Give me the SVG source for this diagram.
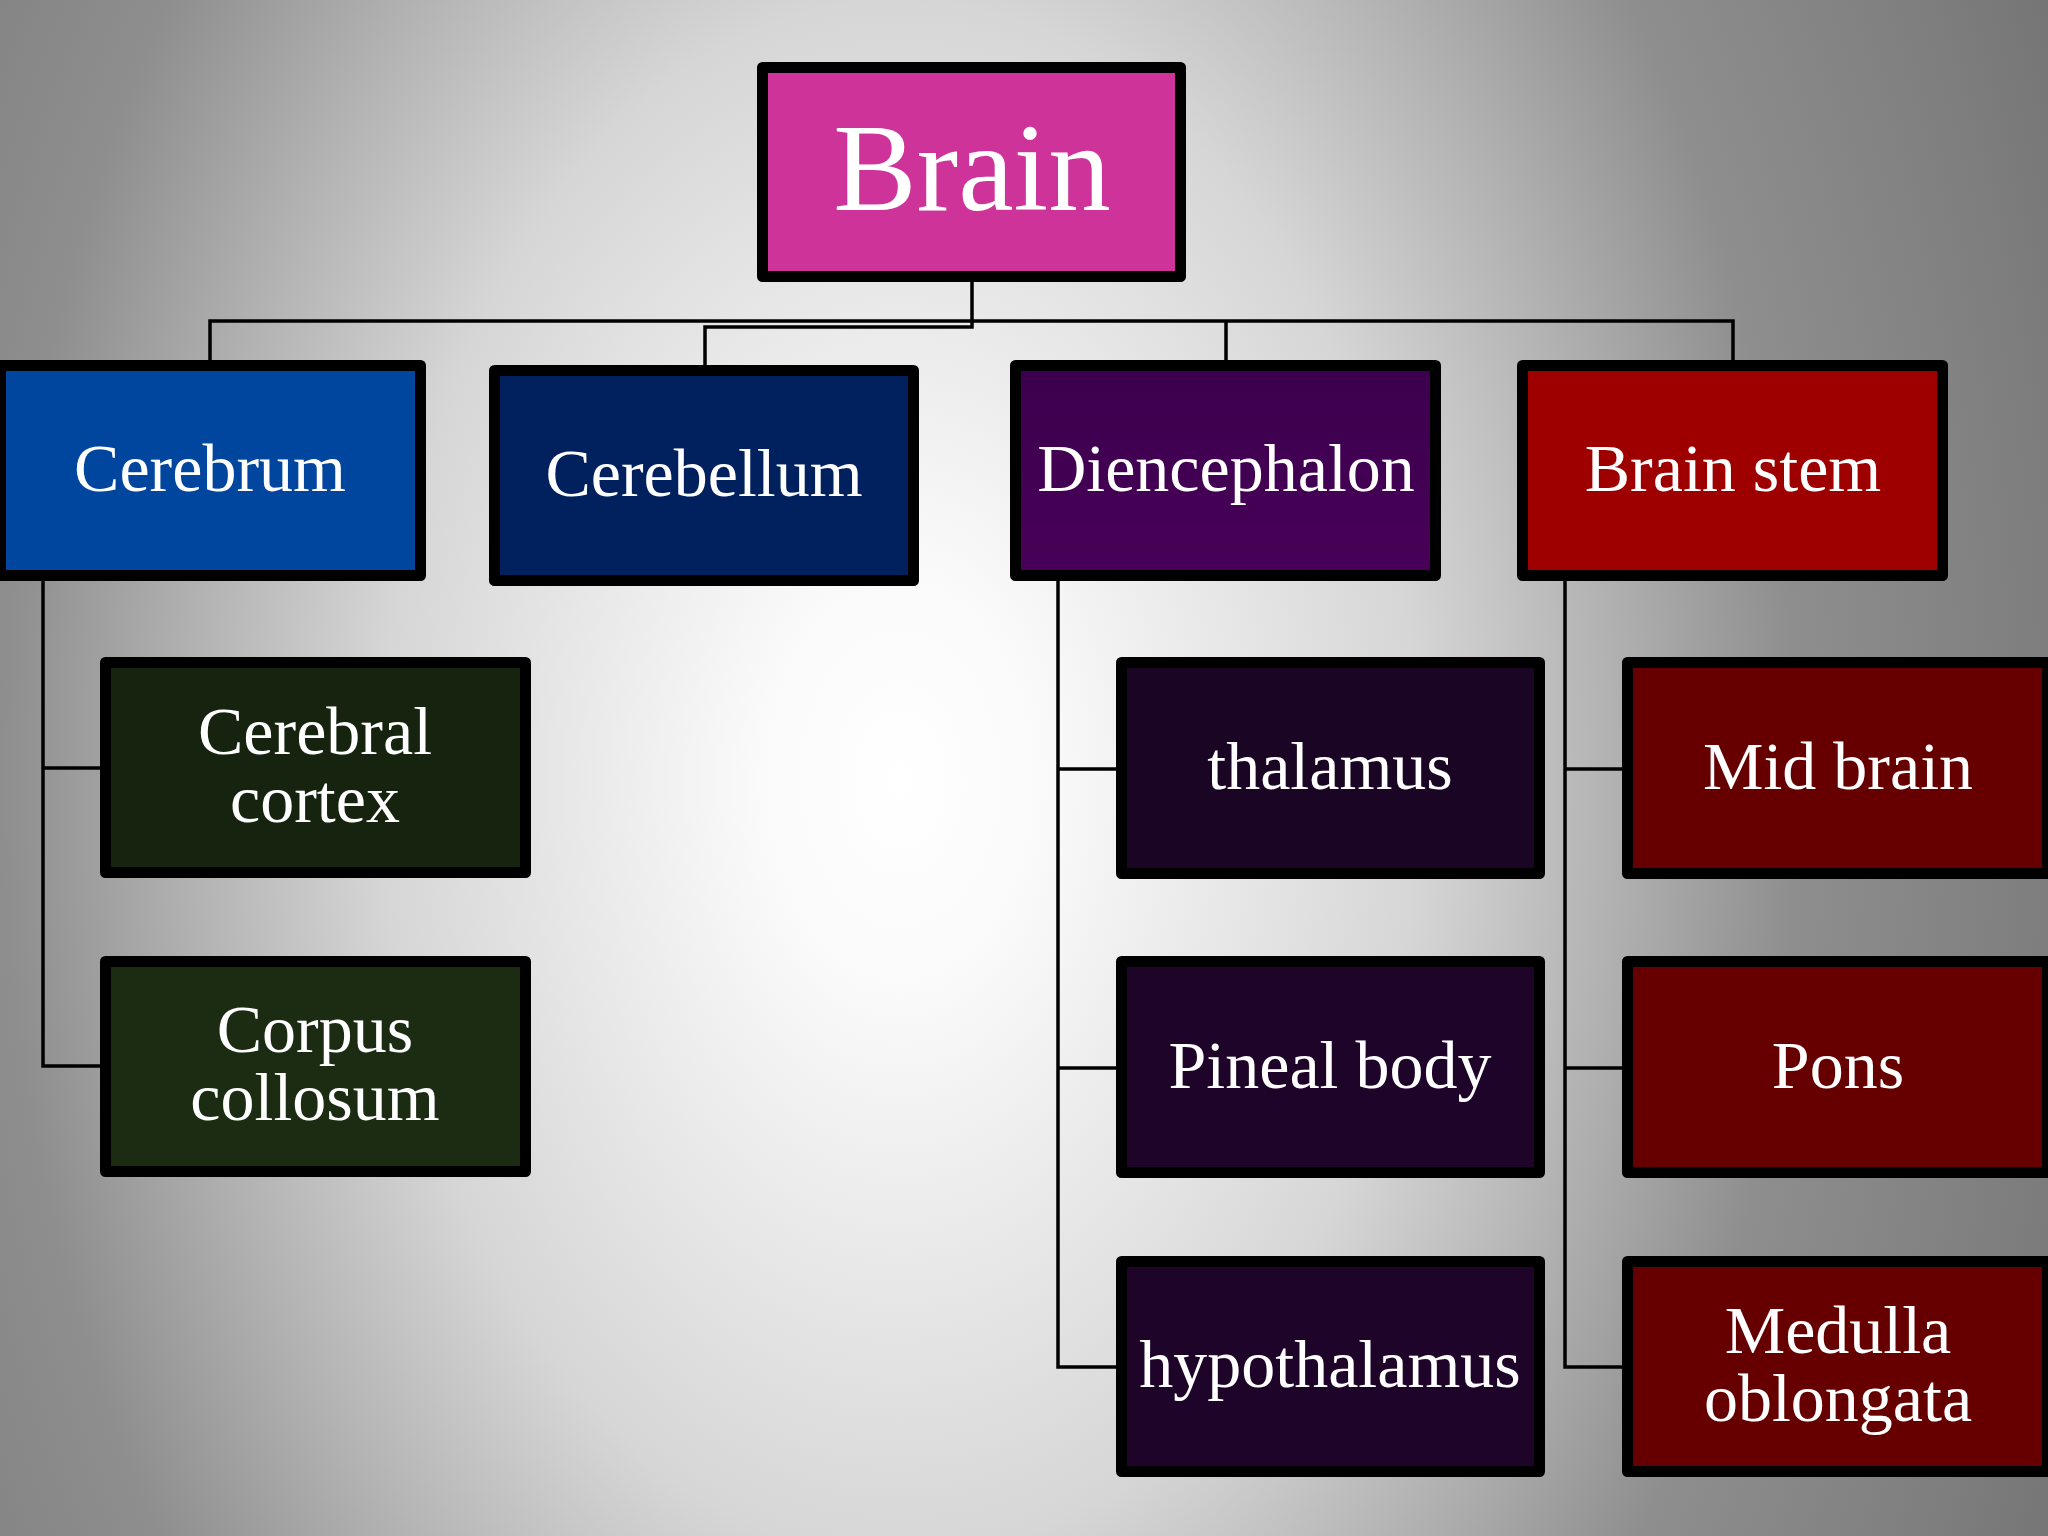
<svg xmlns="http://www.w3.org/2000/svg" width="2048" height="1536" viewBox="0 0 2048 1536">
<defs>
<radialGradient id="bg" gradientUnits="userSpaceOnUse" cx="900" cy="780" r="1400" gradientTransform="translate(900 780) scale(1 1.5) translate(-900 -780)">
<stop offset="0" stop-color="#ffffff"/>
<stop offset="0.1" stop-color="#fafafa"/>
<stop offset="0.37" stop-color="#d6d6d6"/>
<stop offset="0.5" stop-color="#b4b4b4"/>
<stop offset="0.64" stop-color="#8e8e8e"/>
<stop offset="0.82" stop-color="#7e7e7e"/>
<stop offset="1" stop-color="#6a6a6a"/>
</radialGradient>
<linearGradient id="dien" x1="0" y1="0" x2="0" y2="1">
<stop offset="0" stop-color="#3c004e"/>
<stop offset="1" stop-color="#480058"/>
</linearGradient>
<style>
.box{stroke:#000;stroke-width:11;stroke-linejoin:round}
.t{font-family:"Liberation Serif","Times New Roman",serif;font-size:68px;fill:#fff;text-anchor:middle}
.conn{fill:none;stroke:#000;stroke-width:3.5}
</style>
</defs>
<rect x="0" y="0" width="2048" height="1536" fill="url(#bg)"/>
<g id="connectors" class="conn">
<path d="M972 281 V327 H705 V365"/>
<path d="M210 360 V321 H1733 V360"/>
<path d="M1226 321 V360"/>
<path d="M43 581 V1066 H100 M43 768 H100"/>
<path d="M1058 581 V1367 H1116 M1058 769 H1116 M1058 1068 H1116"/>
<path d="M1565 581 V1367 H1622 M1565 769 H1622 M1565 1068 H1622"/>
</g>
<g id="brain"><rect class="box" x="762.5" y="67.5" width="418" height="209" fill="#cd3398"/><text class="t" x="972" y="210" style="font-size:125px">Brain</text></g>
<g id="cerebrum"><rect class="box" x="0.5" y="365.5" width="420" height="210" fill="#00459e"/><text class="t" x="210" y="491">Cerebrum</text></g>
<g id="cerebellum"><rect class="box" x="494.5" y="370.5" width="419" height="210" fill="#00205e"/><text class="t" x="704" y="496">Cerebellum</text></g>
<g id="diencephalon"><rect class="box" x="1015.5" y="365.5" width="420" height="210" fill="url(#dien)"/><text class="t" x="1226" y="491">Diencephalon</text></g>
<g id="brainstem"><rect class="box" x="1522.5" y="365.5" width="420" height="210" fill="#9e0000"/><text class="t" x="1733" y="491">Brain stem</text></g>
<g id="cerebral-cortex"><rect class="box" x="105.5" y="662.5" width="420" height="210" fill="#16230f"/><text class="t" x="315" y="754">Cerebral</text><text class="t" x="315" y="822">cortex</text></g>
<g id="corpus-collosum"><rect class="box" x="105.5" y="961.5" width="420" height="210" fill="#1b2c13"/><text class="t" x="315" y="1052">Corpus</text><text class="t" x="315" y="1120">collosum</text></g>
<g id="thalamus"><rect class="box" x="1121.5" y="662.5" width="418" height="211" fill="#1a0525"/><text class="t" x="1330" y="789">thalamus</text></g>
<g id="pineal-body"><rect class="box" x="1121.5" y="961.5" width="418" height="211" fill="#1e0429"/><text class="t" x="1330" y="1088">Pineal body</text></g>
<g id="hypothalamus"><rect class="box" x="1121.5" y="1261.5" width="418" height="210" fill="#1e0429"/><text class="t" x="1330" y="1387">hypothalamus</text></g>
<g id="mid-brain"><rect class="box" x="1627.5" y="662.5" width="420" height="211" fill="#660000"/><text class="t" x="1838" y="789">Mid brain</text></g>
<g id="pons"><rect class="box" x="1627.5" y="961.5" width="420" height="211" fill="#660000"/><text class="t" x="1838" y="1088">Pons</text></g>
<g id="medulla-oblongata"><rect class="box" x="1627.5" y="1261.5" width="420" height="210" fill="#660000"/><text class="t" x="1838" y="1353">Medulla</text><text class="t" x="1838" y="1421">oblongata</text></g>
</svg>
